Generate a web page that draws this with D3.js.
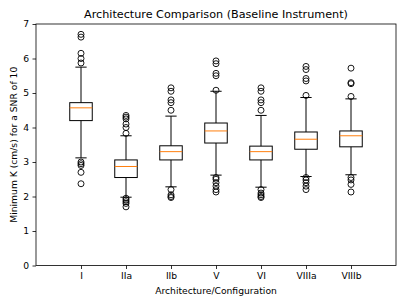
<!DOCTYPE html>
<html>
<head>
<meta charset="utf-8">
<script src="https://cdn.jsdelivr.net/npm/d3@7"></script>
<style>
body { margin: 0; background: #fff; }
text { font-family: "DejaVu Sans", sans-serif; }
</style>
</head>
<body>
<div id="chart"></div>
<script>
width = 407;
height = 305;

// box stats
var categories = ["I", "IIa", "IIb", "V", "VI", "VIIIa", "VIIIb"];
var medians  = [4.57, 2.87, 3.30, 3.90, 3.30, 3.66, 3.76];
var q1s      = [4.20, 2.55, 3.06, 3.55, 3.06, 3.37, 3.44];
var q3s      = [4.72, 3.06, 3.47, 4.13, 3.46, 3.87, 3.90];
var whiskLo  = [3.12, 1.98, 2.28, 2.62, 2.27, 2.58, 2.63];
var whiskHi  = [5.75, 3.76, 4.33, 5.05, 4.35, 4.87, 4.83];
var fliers   = [
    [5.87, 6.0, 6.15, 6.62, 6.70, 2.90, 2.95, 3.0, 2.70, 2.37],
    [3.83, 4.0, 4.1, 4.25, 4.30, 4.35, 1.95, 1.90, 1.85, 1.80, 1.70],
    [4.50, 4.72, 4.80, 5.05, 5.15, 2.20, 2.05, 2.0, 1.97],
    [5.08, 5.50, 5.57, 5.85, 5.93, 2.55, 2.50, 2.40, 2.30, 2.20, 2.13],
    [4.50, 4.72, 4.80, 5.05, 5.15, 2.20, 2.10, 2.05, 2.0, 1.97],
    [4.93, 5.35, 5.42, 5.68, 5.77, 2.55, 2.48, 2.40, 2.30, 2.20],
    [4.90, 5.27, 5.30, 5.72, 2.55, 2.48, 2.35, 2.13]
];
var yTicks = [0, 1, 2, 3, 4, 5, 6, 7];

var margin = {left: 36, right: 11, top: 24, bottom: 39.5};
var w = width - margin.left - margin.right;
var h = height - margin.top - margin.bottom;

var svg = d3.select("#chart")
    .append("svg")
    .attr("width", width)
    .attr("height", height);

var g = svg.append("g")
    .attr("transform", "translate(" + margin.left + "," + margin.top + ")");

var x = d3.scaleLinear().domain([0, categories.length + 1]).range([0, w]);
var y = d3.scaleLinear().domain([0, 7]).range([h, 0]);

var boxW = x(0.25) - x(0);
var capW = x(0.125) - x(0);

// axes
g.append("g")
    .attr("transform", "translate(0," + h + ")")
    .call(d3.axisBottom(x)
        .tickValues(d3.range(1, categories.length + 1))
        .tickFormat(d => categories[d - 1])
        .tickSizeInner(3.5).tickSizeOuter(0).tickPadding(3.5))
    .call(a => a.select(".domain").remove())
    .selectAll("text").style("font-size", "9.2px").attr("fill", "#000");

g.append("g")
    .call(d3.axisLeft(y)
        .tickValues(yTicks)
        .tickFormat(d3.format("d"))
        .tickSizeInner(3.5).tickSizeOuter(0).tickPadding(3.5))
    .call(a => a.select(".domain").remove())
    .selectAll("text").style("font-size", "9.2px").attr("fill", "#000");

g.selectAll(".tick line").attr("stroke", "#000").attr("stroke-width", 0.8);

// one box per category
categories.forEach(function(c, i) {
    var cx = x(i + 1);
    var box = g.append("g").attr("class", "box");

    box.append("line")
        .attr("x1", cx).attr("x2", cx)
        .attr("y1", y(q1s[i])).attr("y2", y(whiskLo[i]))
        .attr("stroke", "#000").attr("stroke-width", 1);
    box.append("line")
        .attr("x1", cx).attr("x2", cx)
        .attr("y1", y(q3s[i])).attr("y2", y(whiskHi[i]))
        .attr("stroke", "#000").attr("stroke-width", 1);

    [whiskLo[i], whiskHi[i]].forEach(function(v) {
        box.append("line")
            .attr("x1", cx - capW).attr("x2", cx + capW)
            .attr("y1", y(v)).attr("y2", y(v))
            .attr("stroke", "#000").attr("stroke-width", 1);
    });

    box.append("rect")
        .attr("x", cx - boxW).attr("width", boxW * 2)
        .attr("y", y(q3s[i])).attr("height", y(q1s[i]) - y(q3s[i]))
        .attr("fill", "none").attr("stroke", "#000").attr("stroke-width", 1);

    box.append("line")
        .attr("x1", cx - boxW).attr("x2", cx + boxW)
        .attr("y1", y(medians[i])).attr("y2", y(medians[i]))
        .attr("stroke", "#ff7f0e").attr("stroke-width", 1);

    box.selectAll("circle")
        .data(fliers[i])
        .enter()
        .append("circle")
        .attr("cx", cx)
        .attr("cy", d => y(d))
        .attr("r", 3)
        .attr("fill", "none")
        .attr("stroke", "#000")
        .attr("stroke-width", 0.9);
});

// frame
g.append("rect")
    .attr("width", w).attr("height", h)
    .attr("fill", "none").attr("stroke", "#000").attr("stroke-width", 0.8);

// labels
svg.append("text")
    .attr("x", margin.left + w / 2).attr("y", margin.top - 6)
    .attr("text-anchor", "middle")
    .style("font-size", "11.2px")
    .text("Architecture Comparison (Baseline Instrument)");

svg.append("text")
    .attr("x", margin.left + w / 2).attr("y", height - 11)
    .attr("text-anchor", "middle")
    .style("font-size", "9.2px")
    .text("Architecture/Configuration");

svg.append("text")
    .attr("transform", "translate(17," + (margin.top + h / 2) + ") rotate(-90)")
    .attr("text-anchor", "middle")
    .style("font-size", "9.2px")
    .text("Minimum K (cm/s) for a SNR of 10");
</script>
</body>
</html>
